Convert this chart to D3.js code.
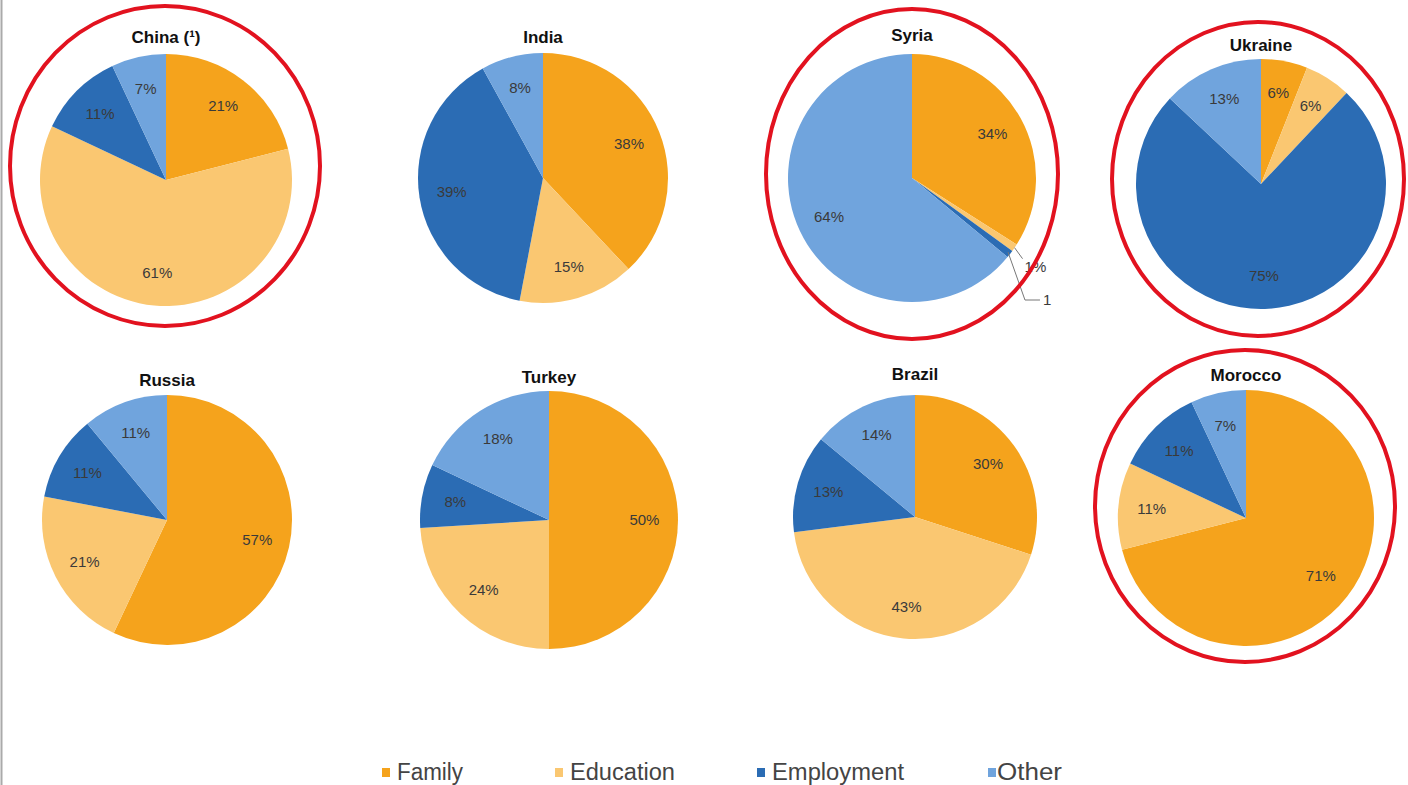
<!doctype html>
<html>
<head>
<style>
  body { margin: 0; background: #fff; }
  text { font-family: "Liberation Sans", Arial, sans-serif; }
</style>
<script src="https://d3js.org/d3.v7.min.js"></script>
</head>
<body>
<svg width="1408" height="785"></svg>
<script>
var categories = ["Family", "Education", "Employment", "Other"];
var countries = ["China (\u00b9)", "India", "Syria", "Ukraine", "Russia", "Turkey", "Brazil", "Morocco"];
var family     = [21, 38, 34,  6, 57, 50, 30, 71];
var education  = [61, 15,  1,  6, 21, 24, 43, 11];
var employment = [11, 39,  1, 75, 11,  8, 13, 11];
var other      = [ 7,  8, 64, 13, 11, 18, 14,  7];
var circled    = ["China (\u00b9)", "Syria", "Ukraine", "Morocco"];

var colors = ["#F5A31C", "#FAC771", "#2B6CB4", "#70A4DD"];

// layout of each pie (centre, radius, title y, highlight ellipse)
var layout = [
  {cx: 166, cy: 180, r: 126, ty: 43, ex: 165, ey: 166, rx: 155, ry: 160},
  {cx: 543, cy: 178, r: 125, ty: 43},
  {cx: 912, cy: 178, r: 124, ty: 41, ex: 912, ey: 174, rx: 146, ry: 165},
  {cx: 1261, cy: 184, r: 125, ty: 51, ex: 1258, ey: 179, rx: 146, ry: 157},
  {cx: 167, cy: 520, r: 125, ty: 386},
  {cx: 549, cy: 520, r: 129, ty: 383},
  {cx: 915, cy: 517, r: 122, ty: 380},
  {cx: 1246, cy: 518, r: 128, ty: 381, ex: 1245, ey: 506, rx: 150, ry: 156}
];

var svg = d3.select("svg");

svg.append("line")
   .attr("x1", 1.5).attr("x2", 1.5).attr("y1", 0).attr("y2", 785)
   .attr("stroke", "#aaa").attr("stroke-width", 2);

var pie = d3.pie().sort(null).value(function(d) { return d; });

countries.forEach(function(name, i) {
    var L = layout[i];
    var vals = [family[i], education[i], employment[i], other[i]];
    var g = svg.append("g").attr("transform", "translate(" + L.cx + "," + L.cy + ")");
    var arc = d3.arc().innerRadius(0).outerRadius(L.r);
    var labelArc = d3.arc().innerRadius(L.r * 0.74).outerRadius(L.r * 0.74);
    var arcs = pie(vals);

    g.selectAll("path")
     .data(arcs)
     .enter().append("path")
     .attr("d", arc)
     .attr("fill", function(d, j) { return colors[j]; });

    arcs.forEach(function(d, j) {
        if (d.value < 3) return;
        var p = labelArc.centroid(d);
        g.append("text")
         .attr("x", p[0]).attr("y", p[1] + 5)
         .attr("text-anchor", "middle")
         .attr("font-size", "15px")
         .attr("fill", "#3a3a3a")
         .text(d.value + "%");
    });

    // small slices get outside labels with leader lines
    var small = arcs.filter(function(d) { return d.value < 3; });
    small.forEach(function(d, k) {
        var a = (d.startAngle + d.endAngle) / 2;
        var sx = Math.sin(a) * L.r, sy = -Math.cos(a) * L.r;
        var pts = k === 0
            ? [[sx, sy], [sx + 8, sy + 11]]
            : [[sx - 2, sy - 2], [sx + 15, sy + 46], [sx + 30, sy + 46]];
        g.append("path")
         .attr("d", d3.line()(pts))
         .attr("fill", "none")
         .attr("stroke", "#777")
         .attr("stroke-width", 1);
        var t = g.append("text")
         .attr("font-size", "15px")
         .attr("fill", "#3a3a3a");
        if (k === 0) t.attr("x", sx + 10).attr("y", sy + 24).text(d.value + "%");
        else t.attr("x", sx + 33).attr("y", sy + 51).text(d.value);
    });

    svg.append("text")
       .attr("x", L.cx).attr("y", L.ty)
       .attr("text-anchor", "middle")
       .attr("font-size", "17px")
       .attr("font-weight", "bold")
       .attr("fill", "#111")
       .text(name);

    if (circled.indexOf(name) >= 0) {
        svg.append("ellipse")
           .attr("cx", L.ex).attr("cy", L.ey)
           .attr("rx", L.rx).attr("ry", L.ry)
           .attr("fill", "none")
           .attr("stroke", "#E2121F")
           .attr("stroke-width", 4);
    }
});

// legend
var legendX = [382, 555, 757, 988];
var legendW = [66, 105, 132, 65];
var lg = svg.selectAll(".leg")
    .data(categories)
    .enter().append("g")
    .attr("class", "leg")
    .attr("transform", function(d, i) { return "translate(" + legendX[i] + ",772)"; });
lg.append("rect")
  .attr("x", 0).attr("y", -4).attr("width", 8).attr("height", 9)
  .attr("fill", function(d, i) { return colors[i]; });
lg.append("text")
  .attr("x", function(d, i) { return i === 3 ? 9 : 15; }).attr("y", 8)
  .attr("font-size", "23px")
  .attr("fill", "#444")
  .attr("textLength", function(d, i) { return legendW[i]; })
  .attr("lengthAdjust", "spacingAndGlyphs")
  .text(function(d) { return d; });
</script>
</body>
</html>
